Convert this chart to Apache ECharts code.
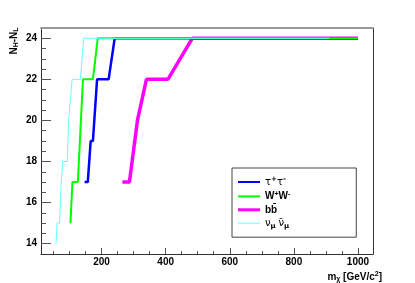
<!DOCTYPE html>
<html><head><meta charset="utf-8">
<script src="https://cdn.jsdelivr.net/npm/echarts@6/dist/echarts.min.js"></script>
<style>html,body{margin:0;padding:0;background:#fff}#c{width:415px;height:283px}</style>
</head><body><div id="c"></div>
<script>
// Data (mass in GeV/c^2, N_H - N_L)
var tauX = [147, 157, 166, 173, 186, 222, 241, 1000];
var tauY = [17, 17, 19, 19, 22, 22, 24, 24];
var wwX = [103, 109, 126, 142, 173, 188, 1000];
var wwY = [15, 17, 17, 22, 22, 24, 24];
var bbX = [265, 287, 312, 340, 407, 483, 1000];
var bbY = [17, 17, 20, 22, 22, 24, 24];
var nuX = [58, 61, 69, 74, 77, 79, 93, 97, 102, 108, 134, 144, 912];
var nuY = [14, 15, 15, 17, 17, 18, 18, 20, 20, 22, 22, 24, 24];
var xMajorTicks = [200, 400, 600, 800, 1000];
var xMinorTicks = [50, 100, 150, 200, 250, 300, 350, 400, 450, 500, 550, 600, 650, 700, 750, 800, 850, 900, 950, 1000];
var yMajorTicks = [14, 16, 18, 20, 22, 24];
var yMinorTicks = [14, 14.5, 15, 15.5, 16, 16.5, 17, 17.5, 18, 18.5, 19, 19.5, 20, 20.5, 21, 21.5, 22, 22.5, 23, 23.5, 24];

function pairs(xs, ys) { return xs.map(function (x, i) { return [x, ys[i]]; }); }

var XMIN = 11, XMAX = 1047, YMIN = 13.5, YMAX = 24.5;
var FONT = 'Liberation Sans';
function subStyle() { return { fontSize: 7, fontFamily: FONT, fontWeight: 'bold', verticalAlign: 'bottom', lineHeight: 12 }; }
function supStyle() { return { fontSize: 7, fontFamily: FONT, fontWeight: 'bold', verticalAlign: 'top', lineHeight: 12 }; }
function lineIcon(w) { return 'path://M0,0 H22 V' + w + ' H0 Z'; }
var hidden = { axisLine: { show: false }, axisTick: { show: false }, axisLabel: { show: false }, splitLine: { show: false } };

var chart = echarts.init(document.getElementById('c'), null, { renderer: 'canvas' });
chart.setOption({
  backgroundColor: '#fff',
  animation: false,
  grid: [
    { left: 41, right: 42, top: 28, bottom: 29, containLabel: false },
    { left: 41, top: 30, height: 22, width: 10, containLabel: false }
  ],
  xAxis: [
    { type: 'value', position: 'bottom', min: XMIN, max: XMAX,
      axisLine: { lineStyle: { color: '#333', width: 1 } },
      axisTick: { inside: true, length: 6, customValues: xMajorTicks, lineStyle: { color: '#555' } },
      axisLabel: { customValues: xMajorTicks, formatter: function (v) { return String(v); },
        fontFamily: FONT, fontWeight: 'bold', fontSize: 10, color: '#000', margin: 3 },
      splitLine: { show: false } },
    Object.assign({ type: 'value', position: 'bottom', min: XMIN, max: XMAX }, hidden,
      { axisTick: { inside: true, length: 3, customValues: xMinorTicks, lineStyle: { color: '#555' } } }),
    Object.assign({ type: 'value', position: 'top', min: XMIN, max: XMAX }, hidden,
      { axisLine: { show: true, lineStyle: { color: '#999', width: 2 } } }),
    Object.assign({ type: 'value', position: 'bottom', offset: 23, min: XMIN, max: XMAX }, hidden, {
      name: 'm{sub|χ} [GeV/c{sup|2}]', nameLocation: 'end', nameGap: 9,
      nameTextStyle: { align: 'right', verticalAlign: 'middle', fontFamily: FONT, fontWeight: 'bold', fontSize: 10, color: '#000',
        lineHeight: 12, rich: { sub: subStyle(), sup: supStyle() } } }),
    Object.assign({ type: 'value', gridIndex: 1, min: 0, max: 1 }, hidden)
  ],
  yAxis: [
    { type: 'value', position: 'left', min: YMIN, max: YMAX,
      axisLine: { show: true, lineStyle: { color: '#333', width: 1 } },
      axisTick: { show: true, inside: true, length: 10, customValues: yMajorTicks, lineStyle: { color: '#555' } },
      axisLabel: { customValues: yMajorTicks, fontFamily: FONT, fontWeight: 'bold', fontSize: 10, color: '#000', margin: 4 },
      splitLine: { show: false } },
    Object.assign({ type: 'value', position: 'left', min: YMIN, max: YMAX }, hidden,
      { axisTick: { show: true, inside: true, length: 5, customValues: yMinorTicks, lineStyle: { color: '#555' } } }),
    Object.assign({ type: 'value', position: 'right', min: YMIN, max: YMAX }, hidden,
      { axisLine: { show: true, lineStyle: { color: '#333', width: 1 } } }),
    Object.assign({ type: 'value', gridIndex: 1, position: 'left', min: 0, max: 1 }, hidden, {
      name: 'N{sub|H}-N{sub|L}', nameLocation: 'middle', nameGap: 21,
      nameTextStyle: { fontFamily: FONT, fontWeight: 'bold', fontSize: 10, color: '#000', lineHeight: 12,
        rich: { sub: subStyle() } } })
  ],
  legend: {
    orient: 'vertical', left: 232, top: 168,
    padding: [8, 66, 8, 6], itemGap: 3.4, itemWidth: 22, itemHeight: 10,
    borderColor: '#444', borderWidth: 1, backgroundColor: '#fff',
    data: [
      { name: 'tau', icon: lineIcon(2) },
      { name: 'ww', icon: lineIcon(2) },
      { name: 'bb', icon: lineIcon(3) },
      { name: 'nu', icon: lineIcon(1) }
    ],
    formatter: function (n) {
      return { tau: '{g|τ}{gs|+}{g|τ}{gs|-}', ww: 'W{s|+}W{s|-}', bb: 'b{b|b̄}', nu: '{g|ν}{gsub|μ} {g|ν̄}{gsub|μ}' }[n];
    },
    textStyle: { fontFamily: FONT, fontWeight: 'bold', fontSize: 10, color: '#000',
      rich: {
        s: { fontSize: 7, fontFamily: FONT, fontWeight: 'bold', padding: [0, 0, 5, 0] },
        b: { fontSize: 10, fontFamily: FONT, fontWeight: 'bold' },
        g: { fontSize: 10, fontFamily: 'DejaVu Sans', fontWeight: 'normal' },
        gs: { fontSize: 7, fontFamily: 'DejaVu Sans', padding: [0, 0, 5, 0] },
        gsub: { fontSize: 7, fontFamily: 'DejaVu Sans', padding: [5, 0, 0, 0] }
      } }
  },
  series: [
    { name: 'bb', type: 'line', xAxisIndex: 0, yAxisIndex: 0, data: pairs(bbX, bbY), symbol: 'none',
      color: '#ff00ff', lineStyle: { color: '#ff00ff', width: 3.5 } },
    { name: 'tau', type: 'line', xAxisIndex: 0, yAxisIndex: 0, data: pairs(tauX, tauY), symbol: 'none',
      color: '#0000ff', lineStyle: { color: '#0000ff', width: 2.5 } },
    { name: 'ww', type: 'line', xAxisIndex: 0, yAxisIndex: 0, data: pairs(wwX, wwY), symbol: 'none',
      color: '#00ff00', lineStyle: { color: '#00ff00', width: 2 } },
    { name: 'nu', type: 'line', xAxisIndex: 0, yAxisIndex: 0, data: pairs(nuX, nuY), symbol: 'none',
      color: '#66ffff', lineStyle: { color: '#66ffff', width: 1 } }
  ]
});
</script></body></html>
